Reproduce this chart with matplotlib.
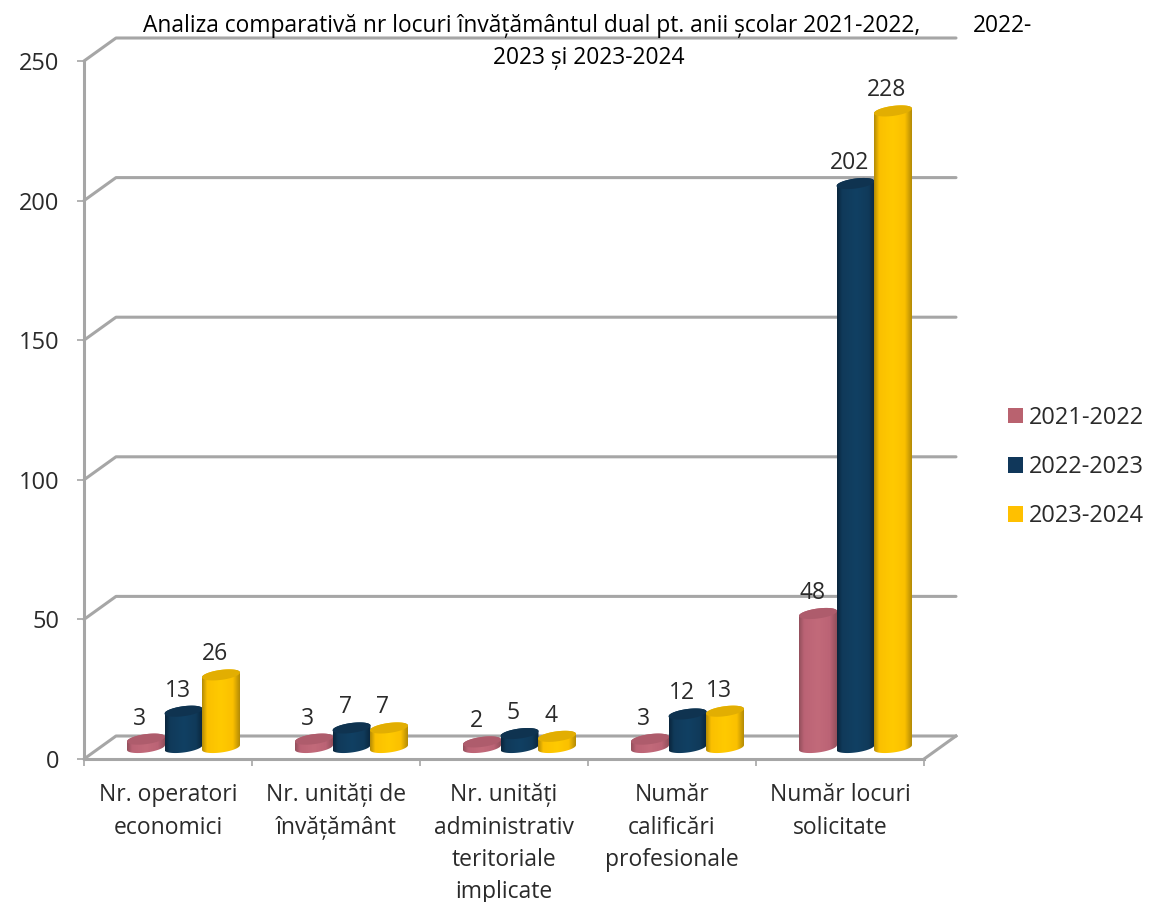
import numpy as np
import matplotlib
matplotlib.use("Agg")
import matplotlib.pyplot as plt
from matplotlib.colors import LinearSegmentedColormap
from matplotlib.patches import PathPatch, Patch, Polygon
from matplotlib.path import Path

plt.rcParams["font.family"] = ["Open Sans", "DejaVu Sans"]

# == Data == #
categories = ["Nr. operatori\neconomici", "Nr. unități de\nînvățământ",
              "Nr. unități\nadministrativ\nteritoriale\nimplicate",
              "Număr\ncalificări\nprofesionale", "Număr locuri\nsolicitate"]
years = ["2021-2022", "2022-2023", "2023-2024"]
v_2021 = [3, 3, 2, 3, 48]
v_2022 = [13, 7, 5, 12, 202]
v_2023 = [26, 7, 4, 13, 228]
y_ticks = [0, 50, 100, 150, 200, 250]

# == Style: legend colour, then cylinder shading edge / mid / lit / top == #
legend_cols = ["#B9626F", "#10375A", "#FFC000"]
shades = [["#94505C", "#BB6375", "#C26A7A", "#AE5C6C"],
          ["#0A263D", "#103A5A", "#114063", "#0F3350"],
          ["#B58C06", "#FBC000", "#FFCA00", "#E2AE02"]]
GRAY = "#A6A6A6"
TXT = "#2A2A2A"

W, H = 1150, 902
fig = plt.figure(figsize=(W / 100, H / 100), dpi=100)
ax = fig.add_axes([84 / W, 1 - 759 / H, 840 / W, 698 / H])
ax.set_xlim(0, 5)
ax.set_ylim(0, 250)
ax.patch.set_visible(False)

# size of one pixel in data units
px = 5 / 840
py = 250 / 698
depth_x, depth_y = 32 * px, 23 * py

# == Walls: skewed grid lines and floor == #
for v in y_ticks:
    ax.plot([0, depth_x, 5 + depth_x], [v, v + depth_y, v + depth_y],
            color=GRAY, lw=2.2, clip_on=False, zorder=1, solid_capstyle="round")
ax.plot([5, 5 + depth_x], [0, depth_y], color=GRAY, lw=2.2, clip_on=False, zorder=1)

for s in ["top", "right"]:
    ax.spines[s].set_visible(False)
for s in ["left", "bottom"]:
    ax.spines[s].set_color(GRAY)
    ax.spines[s].set_linewidth(2.2)
    ax.spines[s].set_zorder(1)

ax.set_yticks(y_ticks)
ax.set_xticks(np.arange(6))
ax.set_xticks(np.arange(5) + 0.5, categories, minor=True)
ax.tick_params(axis="x", which="major", length=5, width=1.2, color=GRAY, labelbottom=False)
ax.tick_params(axis="x", which="minor", length=0, pad=17.5, labelsize=16.5, labelcolor=TXT)
ax.tick_params(axis="y", length=5, width=1.2, color=GRAY, pad=12.6, labelsize=17, labelcolor=TXT)
for lab in ax.get_xticklabels(minor=True):
    lab.set_linespacing(1.46)


# == Cylinders == #
def draw_cyl(cx, value, shade, z):
    hw = 19 * px
    eh = 5 * py
    tilt = 2.4 * py
    base = 11.5 * py
    top = base + value
    t1 = np.linspace(np.pi, 2 * np.pi, 40)
    t2 = np.linspace(0, np.pi, 40)
    xs = np.r_[cx + hw * np.cos(t1), cx + hw * np.cos(t2)]
    ys = np.r_[base + eh * np.sin(t1) + tilt * np.cos(t1),
               top + eh * np.sin(t2) + tilt * np.cos(t2)]
    body = PathPatch(Path(np.c_[xs, ys]), fc="none", ec="none", clip_on=False)
    ax.add_patch(body)
    cmap = LinearSegmentedColormap.from_list(
        "c", [(0, shade[0]), (0.13, shade[1]), (0.5, shade[2]), (0.82, shade[1]), (1, shade[0])])
    im = ax.imshow(np.linspace(0, 1, 64)[None, :], cmap=cmap, aspect="auto", zorder=z,
                   extent=[cx - hw, cx + hw, base - 2 * eh, top + 2 * eh], clip_on=True)
    im.set_clip_path(body)
    tt = np.linspace(0, 2 * np.pi, 80)
    ax.add_patch(Polygon(np.c_[cx + hw * np.cos(tt), top + eh * np.sin(tt) + tilt * np.cos(tt)],
                         fc=shade[3], ec="none", zorder=z + 0.1, clip_on=False))


series = [v_2021, v_2022, v_2023]
offsets = np.array([-37.5, 0, 37.5]) * px
for i, vals in enumerate(series):
    for j, v in enumerate(vals):
        cx = j + 0.5 + 15.5 * px + offsets[i]
        draw_cyl(cx, v, shades[i], 3 + i * 0.3 + j)
        ax.text(cx - 6 * px, v + 11 * py + 21 * py, str(v), ha="center", va="center",
                fontsize=16.5, color=TXT, zorder=20, clip_on=False)
ax.set_xlim(0, 5)
ax.set_ylim(0, 250)

# == Title, split the way it sits in the picture == #
title_size = 16.4
fig.text(532 / W, 1 - 26 / H, "Analiza comparativă nr locuri învățământul dual pt. anii școlar 2021-2022,",
         ha="center", va="center", fontsize=title_size, color="#000000")
fig.text(1002 / W, 1 - 26 / H, "2022-", ha="center", va="center", fontsize=title_size, color="#000000")
fig.text(589 / W, 1 - 58 / H, "2023 și 2023-2024", ha="center", va="center", fontsize=title_size, color="#000000")

# == Legend == #
handles = [Patch(fc=c, ec="none") for c in legend_cols]
fig.legend(handles, years, loc="center left", bbox_to_anchor=(1001 / W, 1 - 467 / H), frameon=False,
           fontsize=17, labelcolor=TXT, handlelength=0.64, handleheight=0.64,
           handletextpad=0.25, labelspacing=1.07, borderpad=0, borderaxespad=0.3)

fig.savefig("out.png", dpi=100)
